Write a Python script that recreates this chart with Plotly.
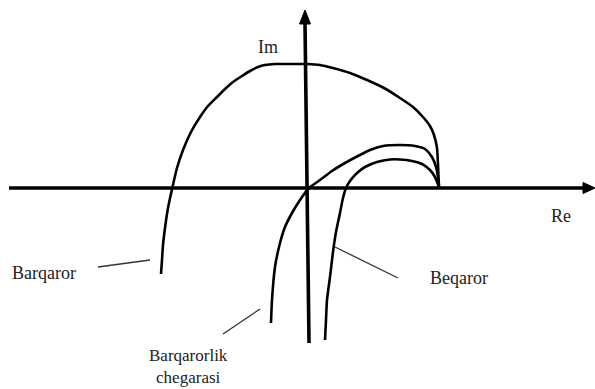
import plotly.graph_objects as go

# Schematic Nyquist (Mikhailov) hodographs, Re/Im in arbitrary units
barqaror_re = [-14.6, -14.5, -14.4, -14.2, -13.9, -13.45, -13.0, -12.4, -11.6, -10.7, -9.9, -9.0,
               -8.2, -7.4, -6.5, -5.7, -4.9, -4.2, -3.2, -1.7, 0.0, 1.3, 2.6, 4.3, 6.0, 7.7, 9.3,
               10.6, 11.6, 12.3, 12.7, 13.0, 13.1, 13.2]
barqaror_im = [-8.7, -7.3, -5.8, -4.1, -2.1, 0.0, 1.9, 3.7, 5.5, 7.0, 8.1, 9.0,
               9.8, 10.5, 11.1, 11.6, 12.0, 12.2, 12.3, 12.3, 12.3, 12.2, 11.9, 11.4, 10.7, 9.9, 8.9,
               8.0, 7.0, 6.1, 5.2, 3.9, 2.2, 0.0]

chegara_re = [-3.6, -3.5, -3.2, -2.7, -2.2, -1.5, -0.7, 0.2, 1.3, 2.5, 3.8, 5.1, 6.3, 7.6,
              9.3, 10.8, 11.8, 12.5, 12.9, 13.1, 13.2]
chegara_im = [-13.6, -11.3, -8.0, -5.6, -4.0, -2.6, -1.3, -0.1, 0.7, 1.6, 2.4, 3.1, 3.7, 4.1,
              4.2, 4.1, 3.8, 3.0, 2.0, 1.0, 0.0]

beqaror_re = [1.8, 1.9, 2.0, 2.3, 2.6, 2.9, 3.3, 3.6, 3.9, 4.3, 5.0, 5.8, 7.0, 8.3, 9.3,
              10.5, 11.5, 12.3, 12.8, 13.2]
beqaror_im = [-15.3, -13.3, -11.3, -9.0, -6.5, -4.5, -2.6, -1.1, -0.1, 0.6, 1.4, 2.0, 2.5, 2.75,
              2.75, 2.6, 2.3, 1.7, 1.0, 0.0]

# axes (real / imaginary)
re_axis_x = [-29.8, 27.7]
re_axis_y = [-0.1, -0.1]
im_axis_x = [0.2, -0.2]
im_axis_y = [-15.6, 16.4]
re_arrow_x = [28.8, 27.6, 27.6, 28.8]
re_arrow_y = [-0.1, 0.45, -0.65, -0.1]
im_arrow_x = [-0.2, 0.35, -0.75, -0.2]
im_arrow_y = [17.7, 16.3, 16.3, 17.7]

# leader lines: (x0, y0, x1, y1)
leaders = [(-20.9, -8.0, -15.7, -7.3),
           (-8.4, -14.7, -4.7, -12.2),
           (2.8, -6.0, 9.1, -9.1)]

labels = ["Im", "Re", "Barqaror", "Beqaror", "Barqarorlik<br>chegarasi"]
label_x = [-3.9, 25.4, -26.35, 15.15, -11.9]
label_y = [14.0, -2.9, -8.6, -9.1, -20.2]
label_anchor = ["middle", "middle", "middle", "middle", "bottom"]
label_size = [18, 18, 18, 18, 17]

fig = go.Figure()
curve_style = dict(color="black", width=2.6, shape="spline", smoothing=0.6)
for xs, ys in [(barqaror_re, barqaror_im), (chegara_re, chegara_im), (beqaror_re, beqaror_im)]:
    fig.add_trace(go.Scatter(x=xs, y=ys, mode="lines", line=curve_style, hoverinfo="skip"))

fig.add_trace(go.Scatter(x=re_axis_x, y=re_axis_y, mode="lines", line=dict(color="black", width=3.6), hoverinfo="skip"))
fig.add_trace(go.Scatter(x=im_axis_x, y=im_axis_y, mode="lines", line=dict(color="black", width=3.6), hoverinfo="skip"))
for ax_, ay_ in [(re_arrow_x, re_arrow_y), (im_arrow_x, im_arrow_y)]:
    fig.add_trace(go.Scatter(x=ax_, y=ay_, mode="lines", fill="toself", fillcolor="black",
                             line=dict(color="black", width=1), hoverinfo="skip"))

for x0, y0, x1, y1 in leaders:
    fig.add_trace(go.Scatter(x=[x0, x1], y=[y0, y1], mode="lines",
                             line=dict(color="#333333", width=1.3), hoverinfo="skip"))

for t, x, y, anc, sz in zip(labels, label_x, label_y, label_anchor, label_size):
    fig.add_annotation(x=x, y=y, text=t, showarrow=False, xanchor="center", yanchor=anc,
                       align="center",
                       font=dict(family="Liberation Serif, Times New Roman, DejaVu Serif, serif",
                                 size=sz, color="#222222"))

fig.update_layout(
    width=595, height=389,
    margin=dict(l=0, r=0, t=0, b=0),
    paper_bgcolor="white", plot_bgcolor="white",
    showlegend=False,
    xaxis=dict(range=[-30.7, 28.8], visible=False, fixedrange=True),
    yaxis=dict(range=[-20.2, 18.7], visible=False, fixedrange=True),
)

fig.write_html("out.html", config={"displayModeBar": False},
               post_script="document.body.style.margin='0';document.body.style.overflow='hidden';")
